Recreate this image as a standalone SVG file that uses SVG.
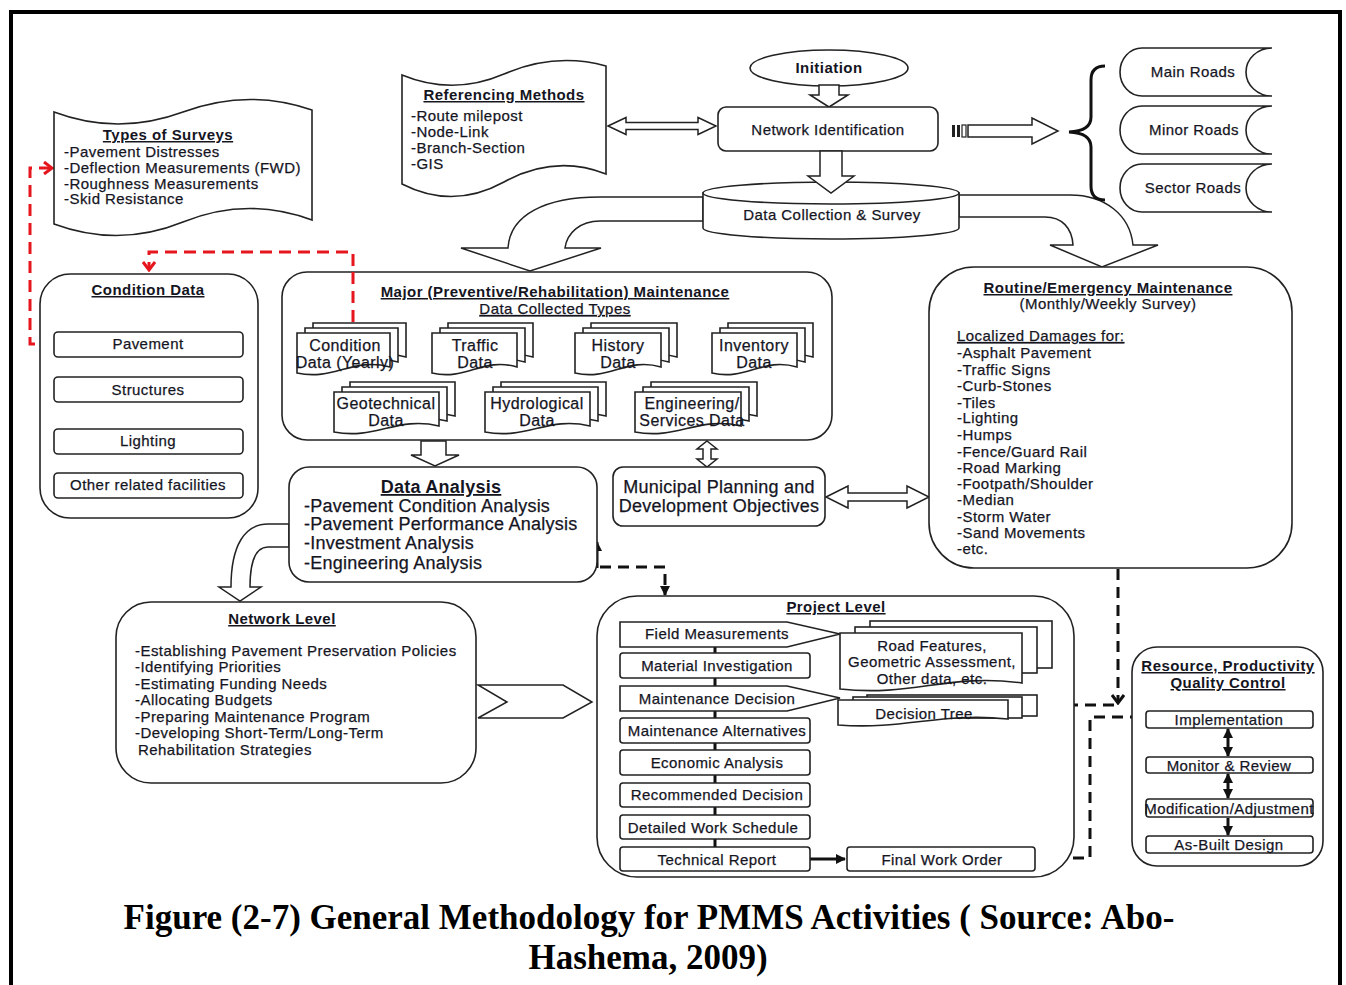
<svg xmlns="http://www.w3.org/2000/svg" width="1346" height="985" viewBox="0 0 1346 985">
<defs>
<style>
.t{font-family:"Liberation Sans",Arial,Helvetica,sans-serif;font-size:15px;fill:#15151f;stroke:#15151f;stroke-width:0.25px;letter-spacing:0.45px}
.c{text-anchor:middle}
.b{font-weight:bold;stroke-width:0}
.u{text-decoration:underline}
.big{font-size:18px;letter-spacing:0.25px}
.doc{font-size:16px}
.box{fill:#fff;stroke:#222;stroke-width:1.6}
.hol{fill:#fff;stroke:#222;stroke-width:1.5}
.red{fill:none;stroke:#e5161d;stroke-width:3;stroke-dasharray:12 7}
.dsh{fill:none;stroke:#111;stroke-width:3;stroke-dasharray:11 7}
.sol{fill:none;stroke:#111;stroke-width:3}
.cap{font-family:"Liberation Serif","Times New Roman",serif;font-size:35px;font-weight:bold;fill:#000;text-anchor:middle}
</style>
<marker id="chevR" viewBox="0 0 12 14" refX="10" refY="7" markerWidth="12" markerHeight="14" markerUnits="userSpaceOnUse" orient="auto">
<path d="M2,1 L10,7 L2,13" fill="none" stroke="#e5161d" stroke-width="3"/>
</marker>
<marker id="chevK" viewBox="0 0 12 14" refX="10" refY="7" markerWidth="12" markerHeight="14" markerUnits="userSpaceOnUse" orient="auto">
<path d="M2,1 L10,7 L2,13" fill="none" stroke="#111" stroke-width="3"/>
</marker>
<marker id="arrK" viewBox="0 0 10 10" refX="9" refY="5" markerWidth="10" markerHeight="10" markerUnits="userSpaceOnUse" orient="auto-start-reverse">
<path d="M0,0 L10,5 L0,10 Z" fill="#111"/>
</marker>
</defs>

<rect width="1346" height="985" fill="#fff"/>
<rect x="11" y="12" width="1329" height="990" fill="none" stroke="#000" stroke-width="4"/>

<!-- hollow block arrows and connectors -->
<g id="connectors">
  <!-- curved arrows leaving the survey store -->
  <path class="hol" d="M703,197 H600 C545,197 510,215 508,248 L461,248 L530,271 L601,248 L565,248 C567,233 580,221 600,221 H703 Z"/>
  <path class="hol" d="M959,195 H1070 C1105,195 1130,215 1133,245 L1158,245 L1102,267 L1050,245 L1073,245 C1072,228 1062,217 1045,217 H959 Z"/>
  <!-- referencing methods <-> network identification -->
  <path class="hol" d="M608,126 L626,117.5 V122.5 H698 V117.5 L716,126 L698,134.5 V129.5 H626 V134.5 Z"/>
  <!-- striped arrow toward road classes -->
  <rect x="952" y="125" width="3" height="12" fill="#222"/>
  <rect x="957" y="125" width="3" height="12" fill="#222"/>
  <rect x="962" y="125" width="4" height="12" fill="#fff" stroke="#222" stroke-width="1.2"/>
  <path class="hol" d="M968,125 H1032 V118 L1058,131 L1032,144 V137 H968 Z"/>
  <path d="M1105,66 Q1091,66 1091,80 V117 Q1091,131 1069,132 Q1091,133 1091,147 V186 Q1091,200 1105,200" fill="none" stroke="#111" stroke-width="3"/>
  <!-- major -> data analysis -->
  <path class="hol" d="M421,441 H446 V455 H459 L435,466 L411,455 H421 Z"/>
  <!-- major <-> municipal -->
  <path class="hol" d="M707,441 L717,449 H711 V459 H717 L707,467 L697,459 H703 V449 H697 Z"/>
  <!-- municipal <-> routine -->
  <path class="hol" d="M826,497 L848,486 V493 H907 V486 L929,497 L907,508 V501 H848 V508 Z"/>
  <!-- data analysis -> network level -->
  <path class="hol" d="M289,524 H268 C245,524 231,545 231,587 L219,587 L240,601 L261,587 L250,587 C250,560 256,547 268,547 H289 Z"/>
  <!-- network level -> project level -->
  <path class="hol" d="M478,685 H563 L592,702 L563,718 H478 L507,702 Z"/>
  <!-- red feedback links -->
  <path class="red" d="M54,344 H30 V168 H52" marker-end="url(#chevR)"/>
  <path class="red" d="M353,323 V252 H149 V270" marker-end="url(#chevR)"/>
  <!-- black dashed links -->
  <path class="dsh" d="M600,567 H665 V595" marker-end="url(#arrK)"/>
  <path class="sol" d="M597,568 V542" marker-end="url(#arrK)"/>
  <path class="dsh" d="M1118,569 V703" marker-end="url(#chevK)"/>
  <path class="dsh" d="M1114,705 H1053" marker-end="url(#chevK)"/>
  <path class="dsh" d="M1050,714 V823" marker-end="url(#chevK)"/>
  <path class="dsh" d="M1046,826 H808" marker-end="url(#chevK)"/>
  <path class="dsh" d="M1037,858 H1090 V717 H1143" marker-end="url(#chevK)"/>
</g>

<!-- Types of Surveys -->
<g id="types-of-surveys">
  <path class="box" d="M54,112 Q118,136 183,112 T312,110 V220 Q247,196 183,222 T54,224 Z"/>
  <text class="t c b u" x="168" y="140">Types of Surveys</text>
  <text class="t" x="64" y="157">-Pavement Distresses</text>
  <text class="t" x="64" y="173">-Deflection Measurements (FWD)</text>
  <text class="t" x="64" y="189">-Roughness Measurements</text>
  <text class="t" x="64" y="204">-Skid Resistance</text>
</g>

<!-- Referencing Methods -->
<g id="referencing-methods">
  <path class="box" d="M402,75 Q453,96 504,74 T606,66 V174 Q555,154 504,182 T402,184 Z"/>
  <text class="t c b u" x="504" y="100">Referencing Methods</text>
  <text class="t" x="411" y="121">-Route milepost</text>
  <text class="t" x="411" y="137">-Node-Link</text>
  <text class="t" x="411" y="153">-Branch-Section</text>
  <text class="t" x="411" y="169">-GIS</text>
</g>

<!-- Initiation -->
<g id="initiation">
  <ellipse class="box" cx="829" cy="68" rx="79" ry="18"/>
  <text class="t c b" x="829" y="73">Initiation</text>
  <path class="hol" d="M819,85 H839 V95 H848 L829,107 L810,95 H819 Z"/>
</g>

<!-- Network Identification -->
<g id="network-identification">
  <rect class="box" x="718" y="107" width="220" height="44" rx="8"/>
  <text class="t c" x="828" y="135">Network Identification</text>
</g>

<!-- Data Collection & Survey -->
<g id="data-collection">
  <path class="box" d="M703,193 V228 A128,11 0 0 0 959,228 V193 Z"/>
  <ellipse class="box" cx="831" cy="193" rx="128" ry="11"/>
  <path class="hol" d="M820,151 H842 V176 H854 L831,193 L808,176 H820 Z"/>
  <text class="t c" x="832" y="220">Data Collection &amp; Survey</text>
</g>

<!-- Road classes -->
<g id="main-roads">
  <path class="box" d="M1272,48 H1142 A22,24 0 0 0 1142,96 H1272 A26,24 0 0 1 1272,48 Z"/>
  <text class="t c" x="1193" y="77">Main Roads</text>
</g>
<g id="minor-roads">
  <path class="box" d="M1272,106 H1142 A22,24 0 0 0 1142,154 H1272 A26,24 0 0 1 1272,106 Z"/>
  <text class="t c" x="1194" y="135">Minor Roads</text>
</g>
<g id="sector-roads">
  <path class="box" d="M1272,164 H1142 A22,24 0 0 0 1142,212 H1272 A26,24 0 0 1 1272,164 Z"/>
  <text class="t c" x="1193" y="193">Sector Roads</text>
</g>

<!-- Condition Data -->
<g id="condition-data">
  <rect class="box" x="40" y="274" width="218" height="244" rx="30"/>
  <text class="t c b u" x="148" y="295">Condition Data</text>
  <rect class="box" x="54" y="332" width="189" height="25" rx="4"/>
  <text class="t c" x="148" y="349">Pavement</text>
  <rect class="box" x="54" y="377" width="189" height="25" rx="4"/>
  <text class="t c" x="148" y="395">Structures</text>
  <rect class="box" x="54" y="429" width="189" height="25" rx="4"/>
  <text class="t c" x="148" y="446">Lighting</text>
  <rect class="box" x="54" y="473" width="189" height="25" rx="4"/>
  <text class="t c" x="148" y="490">Other related facilities</text>
</g>

<!-- Major maintenance -->
<g id="major-maintenance">
  <rect class="box" x="282" y="272" width="550" height="168" rx="25"/>
  <path class="red" d="M353,272 V323"/>
  <text class="t c b u" x="555" y="297">Major (Preventive/Rehabilitation) Maintenance</text>
  <text class="t c u" x="555" y="314">Data Collected Types</text>
  <g id="doc-condition">
    <path class="box" d="M313,323 H406 V357 C368.8,347 350.2,371 313,363 Z"/>
    <path class="box" d="M305,328 H398 V362 C360.8,352 342.2,376 305,368 Z"/>
    <path class="box" d="M297,333 H390 V367 C352.8,357 334.2,381 297,373 Z"/>
    <text class="t c doc" x="345" y="351">Condition</text>
    <text class="t c doc" x="345" y="368">Data (Yearly)</text>
  </g>
  <g id="doc-traffic">
    <path class="box" d="M448,323 H533 V357 C499,347 482,371 448,363 Z"/>
    <path class="box" d="M440,328 H525 V362 C491,352 474,376 440,368 Z"/>
    <path class="box" d="M432,333 H517 V367 C483,357 466,381 432,373 Z"/>
    <text class="t c doc" x="475" y="351">Traffic</text>
    <text class="t c doc" x="475" y="368">Data</text>
  </g>
  <g id="doc-history">
    <path class="box" d="M591,323 H677 V357 C642.6,347 625.4,371 591,363 Z"/>
    <path class="box" d="M583,328 H669 V362 C634.6,352 617.4,376 583,368 Z"/>
    <path class="box" d="M575,333 H661 V367 C626.6,357 609.4,381 575,373 Z"/>
    <text class="t c doc" x="618" y="351">History</text>
    <text class="t c doc" x="618" y="368">Data</text>
  </g>
  <g id="doc-inventory">
    <path class="box" d="M728,323 H813 V357 C779,347 762,371 728,363 Z"/>
    <path class="box" d="M720,328 H805 V362 C771,352 754,376 720,368 Z"/>
    <path class="box" d="M712,333 H797 V367 C763,357 746,381 712,373 Z"/>
    <text class="t c doc" x="754" y="351">Inventory</text>
    <text class="t c doc" x="754" y="368">Data</text>
  </g>
  <g id="doc-geotechnical">
    <path class="box" d="M350,382 H455 V416 C413,406 392,430 350,422 Z"/>
    <path class="box" d="M342,387 H447 V421 C405,411 384,435 342,427 Z"/>
    <path class="box" d="M334,392 H439 V426 C397,416 376,440 334,432 Z"/>
    <text class="t c doc" x="386" y="409">Geotechnical</text>
    <text class="t c doc" x="386" y="426">Data</text>
  </g>
  <g id="doc-hydrological">
    <path class="box" d="M501,382 H606 V416 C564,406 543,430 501,422 Z"/>
    <path class="box" d="M493,387 H598 V421 C556,411 535,435 493,427 Z"/>
    <path class="box" d="M485,392 H590 V426 C548,416 527,440 485,432 Z"/>
    <text class="t c doc" x="537" y="409">Hydrological</text>
    <text class="t c doc" x="537" y="426">Data</text>
  </g>
  <g id="doc-engineering">
    <path class="box" d="M651,382 H757 V416 C714.6,406 693.4,430 651,422 Z"/>
    <path class="box" d="M643,387 H749 V421 C706.6,411 685.4,435 643,427 Z"/>
    <path class="box" d="M635,392 H741 V426 C698.6,416 677.4,440 635,432 Z"/>
    <text class="t c doc" x="692" y="409">Engineering/</text>
    <text class="t c doc" x="692" y="426">Services Data</text>
  </g>
</g>

<!-- Routine / Emergency maintenance -->
<g id="routine-maintenance">
  <rect class="box" x="929" y="267" width="363" height="301" rx="45"/>
  <text class="t c b u" x="1108" y="293">Routine/Emergency Maintenance</text>
  <text class="t c" x="1108" y="309">(Monthly/Weekly Survey)</text>
  <text class="t u" x="957" y="341">Localized Damages for:</text>
  <text class="t" x="957" y="358">-Asphalt Pavement</text>
  <text class="t" x="957" y="375">-Traffic Signs</text>
  <text class="t" x="957" y="391">-Curb-Stones</text>
  <text class="t" x="957" y="408">-Tiles</text>
  <text class="t" x="957" y="423">-Lighting</text>
  <text class="t" x="957" y="440">-Humps</text>
  <text class="t" x="957" y="457">-Fence/Guard Rail</text>
  <text class="t" x="957" y="473">-Road Marking</text>
  <text class="t" x="957" y="489">-Footpath/Shoulder</text>
  <text class="t" x="957" y="505">-Median</text>
  <text class="t" x="957" y="522">-Storm Water</text>
  <text class="t" x="957" y="538">-Sand Movements</text>
  <text class="t" x="957" y="554">-etc.</text>
</g>

<!-- Data Analysis -->
<g id="data-analysis">
  <rect class="box" x="289" y="467" width="308" height="115" rx="20"/>
  <text class="t c b u big" x="441" y="493">Data Analysis</text>
  <text class="t big" x="304" y="512">-Pavement Condition Analysis</text>
  <text class="t big" x="304" y="530">-Pavement Performance Analysis</text>
  <text class="t big" x="304" y="549">-Investment Analysis</text>
  <text class="t big" x="304" y="569">-Engineering Analysis</text>
</g>

<!-- Municipal Planning -->
<g id="municipal-planning">
  <rect class="box" x="613" y="467" width="212" height="59" rx="10"/>
  <text class="t c big" x="719" y="493">Municipal Planning and</text>
  <text class="t c big" x="719" y="512">Development Objectives</text>
</g>

<!-- Network Level -->
<g id="network-level">
  <rect class="box" x="116" y="602" width="360" height="181" rx="35"/>
  <text class="t c b u" x="282" y="624">Network Level</text>
  <text class="t" x="135" y="656">-Establishing Pavement Preservation Policies</text>
  <text class="t" x="135" y="672">-Identifying Priorities</text>
  <text class="t" x="135" y="689">-Estimating Funding Needs</text>
  <text class="t" x="135" y="705">-Allocating Budgets</text>
  <text class="t" x="135" y="722">-Preparing Maintenance Program</text>
  <text class="t" x="135" y="738">-Developing Short-Term/Long-Term</text>
  <text class="t" x="138" y="755">Rehabilitation Strategies</text>
</g>

<!-- Project Level -->
<g id="project-level">
  <rect class="box" x="597" y="596" width="477" height="281" rx="40"/>
  <text class="t c b u" x="836" y="612">Project Level</text>
  <g class="sol">
    <path d="M715,647 V653 M715,678 V686 M715,711 V718 M715,743 V750 M715,775 V783 M715,807 V815 M715,839 V847"/>
  </g>
  <path class="sol" d="M810,859 H845" marker-end="url(#arrK)"/>
  <g id="road-features">
    <rect class="box" x="870" y="621" width="182" height="47"/>
    <rect class="box" x="855" y="627" width="182" height="46"/>
    <path class="box" d="M840,633 H1022 V683 C949.2,673 912.8,697 840,689 Z"/>
  </g>
  <g id="decision-tree">
    <rect class="box" x="867" y="695" width="170" height="21"/>
    <rect class="box" x="853" y="697" width="169" height="21"/>
    <path class="box" d="M838,700 H1008 V719 C940,712 906,730 838,725 Z"/>
  </g>
  <path class="box" d="M620,622 H787 L840,634 L787,647 H620 Z"/>
  <path class="box" d="M620,686 H787 L840,698 L787,711 H620 Z"/>
  <rect class="box" x="620" y="653" width="190" height="25" rx="3"/>
  <rect class="box" x="620" y="718" width="190" height="25" rx="3"/>
  <rect class="box" x="620" y="750" width="190" height="25" rx="3"/>
  <rect class="box" x="620" y="783" width="190" height="24" rx="3"/>
  <rect class="box" x="620" y="815" width="190" height="24" rx="3"/>
  <rect class="box" x="620" y="847" width="190" height="24" rx="3"/>
  <rect class="box" x="847" y="847" width="188" height="24" rx="3"/>
  <text class="t c" x="717" y="639">Field Measurements</text>
  <text class="t c" x="717" y="671">Material Investigation</text>
  <text class="t c" x="717" y="704">Maintenance Decision</text>
  <text class="t c" x="717" y="736">Maintenance Alternatives</text>
  <text class="t c" x="717" y="768">Economic Analysis</text>
  <text class="t c" x="717" y="800">Recommended Decision</text>
  <text class="t c" x="713" y="833">Detailed Work Schedule</text>
  <text class="t c" x="717" y="865">Technical Report</text>
  <text class="t c" x="942" y="865">Final Work Order</text>
  <text class="t c" x="932" y="651">Road Features,</text>
  <text class="t c" x="932" y="667">Geometric Assessment,</text>
  <text class="t c" x="932" y="684">Other data, etc.</text>
  <text class="t c" x="924" y="719">Decision Tree</text>
</g>

<!-- Resource, Productivity, Quality Control -->
<g id="quality-control">
  <rect class="box" x="1132" y="647" width="191" height="219" rx="25"/>
  <text class="t c b u" x="1228" y="671">Resource, Productivity</text>
  <text class="t c b u" x="1228" y="688">Quality Control</text>
  <rect class="box" x="1146" y="711" width="167" height="17" rx="3"/>
  <rect class="box" x="1146" y="757" width="167" height="16" rx="3"/>
  <rect class="box" x="1146" y="799" width="167" height="18" rx="3"/>
  <rect class="box" x="1146" y="836" width="167" height="17" rx="3"/>
  <path class="sol" d="M1228,729 V756" marker-start="url(#arrK)" marker-end="url(#arrK)"/>
  <path class="sol" d="M1228,774 V798" marker-start="url(#arrK)" marker-end="url(#arrK)"/>
  <path class="sol" d="M1228,818 V835" marker-end="url(#arrK)"/>
  <text class="t c" x="1229" y="725">Implementation</text>
  <text class="t c" x="1229" y="771">Monitor &amp; Review</text>
  <text class="t c" x="1229" y="814">Modification/Adjustment</text>
  <text class="t c" x="1229" y="850">As-Built Design</text>
</g>

<!-- caption -->
<g id="caption">
  <text class="cap" x="649" y="929">Figure (2-7) General Methodology for PMMS Activities ( Source: Abo-</text>
  <text class="cap" x="648" y="969">Hashema, 2009)</text>
</g>
</svg>
